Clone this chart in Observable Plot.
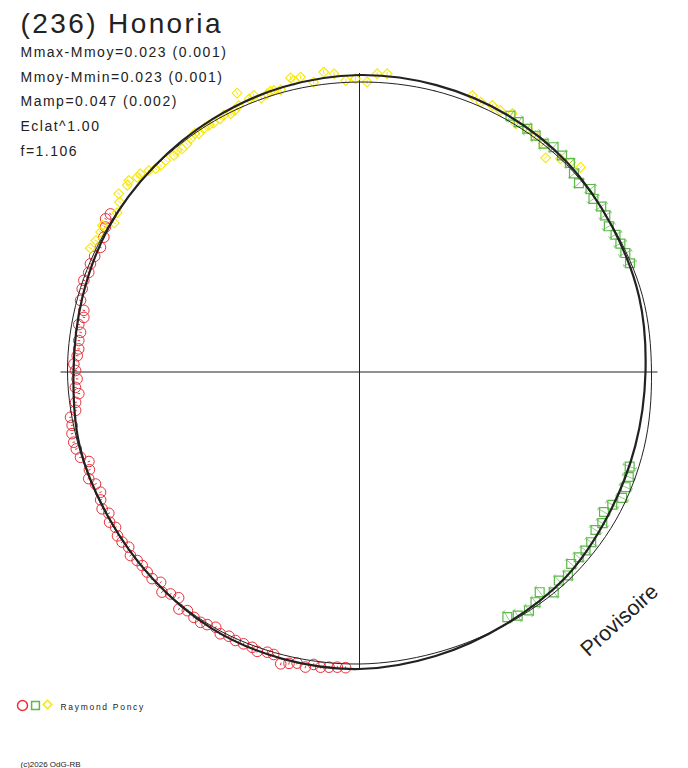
<!DOCTYPE html>
<html><head><meta charset="utf-8">
<script src="https://cdn.jsdelivr.net/npm/d3@7"></script>
<script src="https://cdn.jsdelivr.net/npm/@observablehq/plot@0.6"></script>
<style>
html,body{margin:0;padding:0;background:#fff;}
#chart svg{display:block;}
</style></head><body><div id="chart"></div>
<script>
// ---- texts ----
const title = "(236) Honoria";
const infoLines = ["Mmax-Mmoy=0.023 (0.001)", "Mmoy-Mmin=0.023 (0.001)", "Mamp=0.047 (0.002)", "Eclat^1.00", "f=1.106"];
const observer = "Raymond Poncy";
const credit = "(c)2026 OdG-RB";
const watermark = "Provisoire";

// ---- data: rotational phase (deg, clockwise from top) and deviation from mean (millimag, + = fainter) ----
const redPhase = [182.7,184.3,185.9,187.5,188.9,190.4,192.1,193.6,195.1,196.9,198.2,200.1,201.3,203.1,204.8,206.3,208.0,209.4,211.1,212.4,214.0,215.8,217.3,218.7,220.4,221.9,223.4,225.1,226.7,228.3,229.7,231.3,232.8,234.4,235.9,237.5,239.0,240.6,242.0,243.7,245.1,247.0,248.5,250.1,251.7,253.0,254.8,256.2,257.9,259.5,261.1,262.3,263.9,265.6,266.9,268.6,270.3,271.6,273.3,274.7,276.4,278.1,279.6,281.2,282.6,284.4,286.7,288.4,290.2,291.9,293.6,295.7,297.8,299.7,301.1,302.4];
const redDmag = [-18,-18,-21,-25,-18,-34,-25,-33,-43,-15,-14,-24,-16,-16,-17,-13,-20,-6,-14,-20,-18,-11,-26,9,0,-17,8,-5,-1,2,0,-8,7,-2,-3,9,0,15,0,11,24,19,2,17,26,-1,-8,-11,-10,-3,-4,20,24,40,28,36,30,23,35,39,36,39,27,42,36,14,8,4,12,6,10,16,10,-4,-20,-14];

const greenPhase = [30.5,32.5,34.6,36.7,38.9,40.8,43.1,45.2,47.2,49.3,51.6,53.5,55.6,57.5,59.7,61.8,63.8,65.9,68.1,109.3,111.3,113.4,115.6,117.7,119.8,121.9,123.8,126.3,128.3,130.2,132.2,134.3,136.3,138.6,140.7,142.6,144.6,147.0,148.9];
const greenDmag = [-24,-19,-16,-13,-7,-22,-20,-20,-3,8,-13,2,-6,0,11,4,3,1,0,21,10,6,1,24,39,22,30,16,14,18,23,1,12,-9,28,7,-4,4,21];

const yellowPhase = [294.7,296.5,298.4,299.7,301.3,303.3,305.3,306.5,308.8,309.7,311.2,312.1,313.7,314.9,316.1,317.5,319.4,320.5,321.5,322.9,324.1,325.4,326.0,327.6,328.6,329.6,331.2,332.2,333.5,334.5,335.6,336.3,338.0,339.1,340.3,341.6,342.4,343.1,344.4,346.8,347.3,348.7,351.0,353.2,355.1,357.3,359.2,1.5,3.4,5.3,22.2,24.2,26.5,28.3,30.6,32.2,34.6,36.7,38.9,41.0,43.3,45.2,47.2];
const yellowDmag = [-19,-12,-11,-18,18,6,-10,-32,-26,-33,-16,-16,0,14,19,18,25,18,26,22,14,6,17,10,10,12,10,4,12,7,-4,-52,-12,-18,2,-6,-12,-11,-6,-42,-29,-37,-8,-42,-31,-1,-7,6,-29,-32,-28,-17,-25,-22,-34,-7,-16,-13,-7,31,-6,-24,-39];

// fitted light curve (thick) and comparison curve (thin)
const curvePhase = [0,15,30,45,60,75,90,105,120,135,150,165,180,195,210,225,240,255,270,285,300,315,330,345];
const fitDmag =    [-22,-22,-20,-14,0,8,22,24,18,2,0,-10,-22,-22,-18,-4,6,8,22,18,8,4,-4,-14];
const refDmag =    [6,2,-2,-6,-2,-6,-2,-12,-18,-14,-2,2,-2,-6,-10,-4,4,4,-2,0,4,6,6,6];

// error bars (mmag)
const errRed = 5, errGreen = 27, errYellow = 8;
const axisDmag = -28;   // extent of the cross-hair axes

// ---- polar -> plane (radius grows with brightness) ----
const R0 = 291.5, K = 0.25;
const rad = m => R0 - K * m;
function pt(ph, m) { const a = ph * Math.PI / 180, r = rad(m); return [r * Math.sin(a), r * Math.cos(a)]; }
function rows(phases, dmags, err) {
  return phases.map((ph, i) => {
    const [x, y] = pt(ph, dmags[i]);
    const [x1, y1] = pt(ph, dmags[i] - err);
    const [x2, y2] = pt(ph, dmags[i] + err);
    return {ph, m: dmags[i], x, y, x1, y1, x2, y2};
  });
}
const red = rows(redPhase, redDmag, errRed);
const green = rows(greenPhase, greenDmag, errGreen);
const yellow = rows(yellowPhase, yellowDmag, errYellow);
const fit = curvePhase.map((ph, i) => { const [x, y] = pt(ph, fitDmag[i]); return {x, y}; });
const ref = curvePhase.map((ph, i) => { const [x, y] = pt(ph, refDmag[i]); return {x, y}; });
const ext = rad(axisDmag);

const C = {red: "#e8303a", green: "#5cb848", yellow: "#f8e800", ink: "#222"};
const font = "'Liberation Sans', Arial, sans-serif";

const chart = Plot.plot({
  width: 688, height: 768, margin: 0,
  style: {background: "#fff", fontFamily: font, color: C.ink},
  x: {domain: [-359, 329], range: [0, 688], axis: null},
  y: {domain: [-396.5, 371.5], range: [768, 0], axis: null},
  marks: [
    Plot.ruleY([0], {x1: -ext, x2: ext, stroke: C.ink, strokeWidth: 1}),
    Plot.ruleX([0], {y1: -ext, y2: ext, stroke: C.ink, strokeWidth: 1}),
    // error bars
    Plot.link(red, {x1: "x1", y1: "y1", x2: "x2", y2: "y2", stroke: C.red, strokeWidth: 1}),
    Plot.link(yellow, {x1: "x1", y1: "y1", x2: "x2", y2: "y2", stroke: C.yellow, strokeWidth: 1}),
    Plot.link(green, {x1: "x1", y1: "y1", x2: "x2", y2: "y2", stroke: C.green, strokeWidth: 0.7, marker: "tick"}),
    // observations
    Plot.dot(red, {x: "x", y: "y", r: 5.3, symbol: "circle", stroke: C.red, strokeWidth: 1, fill: "none"}),
    Plot.dot(yellow, {x: "x", y: "y", r: 4.4, symbol: "diamond2", stroke: C.yellow, strokeWidth: 1.1, fill: "none"}),
    Plot.dot(green, {x: "x", y: "y", r: 5, symbol: "square", stroke: C.green, strokeWidth: 1.2, fill: "none"}),
    // curves
    Plot.line(ref, {x: "x", y: "y", curve: "catmull-rom-closed", stroke: C.ink, strokeWidth: 1}),
    Plot.line(fit, {x: "x", y: "y", curve: "catmull-rom-closed", stroke: C.ink, strokeWidth: 2.2}),
    // texts
    Plot.text([title], {frameAnchor: "top-left", dx: 20, dy: 32, textAnchor: "start", lineAnchor: "bottom", fontSize: 28, fill: C.ink, fontFamily: font}),
    Plot.text(infoLines, {frameAnchor: "top-left", dx: 20, dy: 0, textAnchor: "start", lineAnchor: "bottom", fontSize: 14, fill: C.ink, fontFamily: font,
      text: d => d}),
    Plot.text([watermark], {frameAnchor: "top-left", dx: 588, dy: 657, rotate: -42, textAnchor: "start", lineAnchor: "bottom", fontSize: 21.5, fill: C.ink, fontFamily: font}),
    Plot.dot([0], {frameAnchor: "top-left", dx: 22, dy: 705, r: 5, symbol: "circle", stroke: C.red, fill: "none"}),
    Plot.dot([0], {frameAnchor: "top-left", dx: 35, dy: 705, r: 4.4, symbol: "square", stroke: C.green, fill: "none"}),
    Plot.dot([0], {frameAnchor: "top-left", dx: 47, dy: 704, r: 3.8, symbol: "diamond2", stroke: C.yellow, fill: "none"}),
    Plot.text([observer], {frameAnchor: "top-left", dx: 60, dy: 709, textAnchor: "start", lineAnchor: "bottom", fontSize: 8.5, fill: C.ink, fontFamily: font}),
    Plot.text([credit], {frameAnchor: "top-left", dx: 20, dy: 766, textAnchor: "start", lineAnchor: "bottom", fontSize: 8, fill: C.ink, fontFamily: font})
  ]
});
document.getElementById("chart").appendChild(chart);

// spread the info lines vertically and set letter spacing (styling only)
const svg = d3.select(chart);
svg.selectAll("text").filter(function () { return infoLines.includes(this.textContent); })
  .each(function () {
    const i = infoLines.indexOf(this.textContent);
    d3.select(this).attr("y", 56.7 + i * 24.6).style("letter-spacing", "1.5px");
  });
svg.selectAll("text").filter(function () { return this.textContent === observer; }).style("letter-spacing", "1.7px");
svg.selectAll("text").filter(function () { return this.textContent === title; }).style("letter-spacing", "2.4px");
</script></body></html>
